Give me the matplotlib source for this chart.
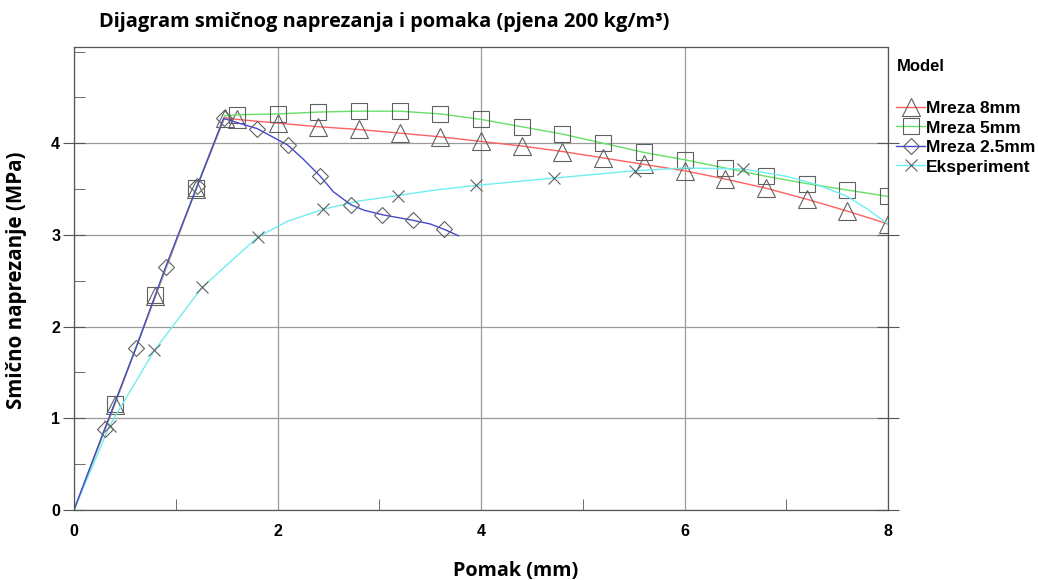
import numpy as np
import matplotlib
matplotlib.use("Agg")
import matplotlib.pyplot as plt
from matplotlib.lines import Line2D
from matplotlib.ticker import MultipleLocator, FixedLocator

# Mreza 8mm (triangles, red line)
x_8mm = [0, 0.4, 0.8, 1.2, 1.48, 1.6, 2.0, 2.4, 2.8, 3.2, 3.6, 4.0, 4.4, 4.8,
         5.2, 5.6, 6.0, 6.4, 6.8, 7.2, 7.6, 8.0]
y_8mm = [0, 1.15, 2.33, 3.50, 4.28, 4.26, 4.22, 4.18, 4.15, 4.11, 4.07, 4.02,
         3.97, 3.91, 3.84, 3.77, 3.70, 3.61, 3.51, 3.39, 3.26, 3.12]
mk_8mm = [1, 2, 3, 4, 5, 6, 7, 8, 9, 10, 11, 12, 13, 14, 15, 16, 17, 18, 19, 20, 21]

# Mreza 5mm (squares, green line)
x_5mm = [0, 0.4, 0.8, 1.2, 1.48, 1.6, 2.0, 2.4, 2.8, 3.2, 3.6, 4.0, 4.4, 4.8,
         5.2, 5.6, 6.0, 6.4, 6.8, 7.2, 7.6, 8.0]
y_5mm = [0, 1.16, 2.34, 3.51, 4.30, 4.31, 4.32, 4.34, 4.35, 4.35, 4.32, 4.26,
         4.18, 4.10, 4.00, 3.90, 3.82, 3.73, 3.64, 3.56, 3.49, 3.42]
mk_5mm = [1, 2, 3, 5, 6, 7, 8, 9, 10, 11, 12, 13, 14, 15, 16, 17, 18, 19, 20, 21]

# Mreza 2.5mm (diamonds, blue line)
x_25mm = [0, 0.3, 0.61, 0.9, 1.21, 1.47, 1.8, 2.1, 2.25, 2.42, 2.55, 2.72,
          2.85, 3.03, 3.33, 3.5, 3.64, 3.78]
y_25mm = [0, 0.88, 1.77, 2.65, 3.53, 4.27, 4.16, 3.98, 3.83, 3.64, 3.47, 3.33,
          3.27, 3.22, 3.16, 3.12, 3.06, 2.99]
mk_25mm = [1, 2, 3, 4, 5, 6, 7, 9, 11, 13, 14, 16]

# Eksperiment (crosses, cyan line)
x_exp = [0, 0.35, 0.79, 1.26, 1.81, 2.1, 2.45, 2.8, 3.18, 3.55, 3.95, 4.72,
         5.51, 6.0, 6.57, 7.0, 7.3, 7.6, 7.8, 8.0]
y_exp = [0, 0.92, 1.74, 2.43, 2.98, 3.15, 3.28, 3.37, 3.43, 3.49, 3.54, 3.62,
         3.70, 3.73, 3.72, 3.64, 3.55, 3.42, 3.28, 3.12]
mk_exp = [1, 2, 3, 4, 6, 8, 10, 11, 12, 14]

legend_names = ["Mreza 8mm", "Mreza 5mm", "Mreza 2.5mm", "Eksperiment"]

fig = plt.figure(figsize=(10.38, 5.8), dpi=100)
ax = fig.add_axes([0.0713, 0.1207, 0.7842, 0.7983])

edge = "#606060"
styles = {
    "Mreza 8mm": ("#ff6060", "^", 13),
    "Mreza 5mm": ("#66e066", "s", 12),
    "Mreza 2.5mm": ("#4848d0", "D", 8),
    "Eksperiment": ("#70eeee", "x", 9),
}
data = {
    "Mreza 8mm": (x_8mm, y_8mm, mk_8mm),
    "Mreza 5mm": (x_5mm, y_5mm, mk_5mm),
    "Eksperiment": (x_exp, y_exp, mk_exp),
    "Mreza 2.5mm": (x_25mm, y_25mm, mk_25mm),
}
for name, (xs, ys, mk) in data.items():
    col, m, ms = styles[name]
    ax.plot(xs, ys, color=col, lw=1.0, marker=m, markevery=mk, ms=ms,
            mfc="none", mec=edge, mew=0.8)

ax.set_xlim(0, 8)
ax.set_ylim(0, 5.05)
ax.xaxis.set_major_locator(MultipleLocator(2))
ax.xaxis.set_minor_locator(MultipleLocator(1))
ax.yaxis.set_major_locator(FixedLocator([0, 1, 2, 3, 4]))
ax.yaxis.set_minor_locator(MultipleLocator(0.5))
ax.grid(True, which="major", color="#9a9a9a", lw=0.9)
ax.set_axisbelow(True)
ax.tick_params(axis="x", which="major", length=0, pad=10)
ax.tick_params(axis="x", which="minor", direction="in", length=8, color="#555555")
ax.tick_params(axis="y", which="major", direction="inout", length=16, right=True,
               color="#555555", pad=2)
ax.tick_params(axis="y", which="minor", direction="in", length=8, color="#555555")
for lbl in ax.get_xticklabels() + ax.get_yticklabels():
    lbl.set_fontfamily("Liberation Sans")
    lbl.set_fontweight("bold")
    lbl.set_fontsize(11.5)
for sp in ax.spines.values():
    sp.set_color("#555555")
    sp.set_linewidth(0.9)

fig.text(0.095, 0.962, "Dijagram smičnog naprezanja i pomaka (pjena 200 kg/m³)",
         fontfamily="Open Sans", fontweight="bold", fontsize=14.4, va="center")
fig.text(0.497, 0.016, "Pomak (mm)", fontfamily="Open Sans", fontweight="bold",
         fontsize=14.2, ha="center", va="center")
fig.text(0.016, 0.517, "Smično naprezanje (MPa)", fontfamily="Open Sans",
         fontweight="bold", fontsize=14.8, ha="center", va="center", rotation=90)

# legend outside right
fig.text(0.864, 0.886, "Model", fontfamily="Liberation Sans", fontweight="bold",
         fontsize=12, va="center")
handles = []
for name in legend_names:
    col, m, ms = styles[name]
    handles.append(Line2D([], [], color=col, lw=1, marker=m, ms=ms,
                          mfc="none", mec=edge, mew=0.8))
fig.legend(handles, legend_names, loc="upper left", bbox_to_anchor=(0.863, 0.826),
           frameon=False, handlelength=1.7, handletextpad=0.05,
           labelspacing=0.25, borderaxespad=0, borderpad=0,
           prop={"family": "Liberation Sans", "weight": "bold", "size": 12.5})

fig.savefig("out.png", dpi=100)
